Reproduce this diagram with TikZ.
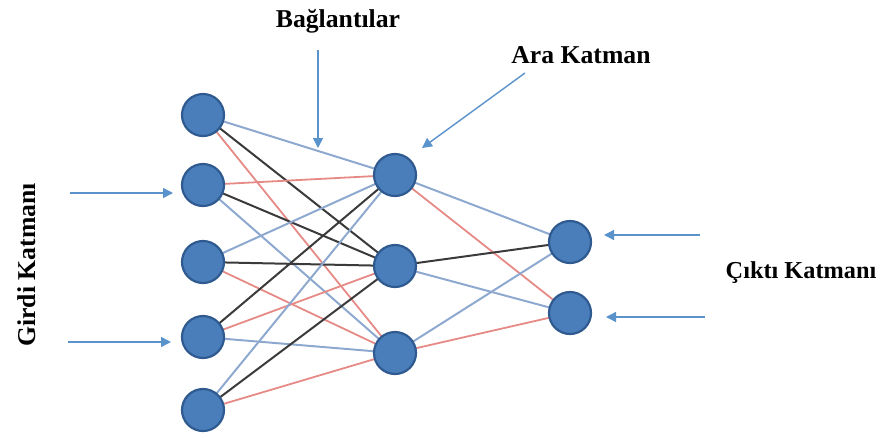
\documentclass[tikz,border=0pt]{standalone}
\usepackage{fontspec}
\setmainfont{Liberation Serif}
\usetikzlibrary{arrows.meta}
\definecolor{nodefill}{HTML}{4A7EBB}
\definecolor{nodeedge}{HTML}{2F5A8F}
\definecolor{linkblue}{HTML}{8EA9CF}
\definecolor{linkred}{HTML}{E68A86}
\definecolor{linkdark}{HTML}{3A3A3A}
\definecolor{pointer}{HTML}{5A92CC}
\begin{document}
\begin{tikzpicture}[x=1pt,y=-1pt,
  neuron/.style={circle,draw=nodeedge,line width=2.2pt,fill=nodefill,minimum size=42pt,inner sep=0pt},
  lb/.style={draw=linkblue,line width=2pt},
  lr/.style={draw=linkred,line width=1.8pt},
  ld/.style={draw=linkdark,line width=2pt},
  pointer/.style={draw=pointer,line width=1.4pt,-{Triangle[length=10pt,width=10pt]}},
  caption/.style={font=\bfseries\fontsize{25.7}{28}\selectfont,inner sep=0pt,anchor=base}]
\useasboundingbox (0,0) rectangle (886,437);

% input layer
\coordinate (i1) at (203,115);
\coordinate (i2) at (203,185);
\coordinate (i3) at (203,262);
\coordinate (i4) at (203,337);
\coordinate (i5) at (203,410);
% hidden layer
\coordinate (h1) at (395,175);
\coordinate (h2) at (395,266);
\coordinate (h3) at (395,353);
% output layer
\coordinate (o1) at (570,242);
\coordinate (o2) at (570,313);

% connections input -> hidden
\draw[lb] (i1) -- (h1);
\draw[ld] (i1) -- (h2);
\draw[lr] (i1) -- (h3);
\draw[lr] (i2) -- (h1);
\draw[ld] (i2) -- (h2);
\draw[lb] (i2) -- (h3);
\draw[lb] (i3) -- (h1);
\draw[ld] (i3) -- (h2);
\draw[lr] (i3) -- (h3);
\draw[ld] (i4) -- (h1);
\draw[lr] (i4) -- (h2);
\draw[lb] (i4) -- (h3);
\draw[lb] (i5) -- (h1);
\draw[ld] (i5) -- (h2);
\draw[lr] (i5) -- (h3);
% connections hidden -> output
\draw[lb] (h1) -- (o1);
\draw[lr] (h1) -- (o2);
\draw[ld] (h2) -- (o1);
\draw[lb] (h2) -- (o2);
\draw[lb] (h3) -- (o1);
\draw[lr] (h3) -- (o2);

% neurons
\foreach \n in {i1,i2,i3,i4,i5,h1,h2,h3,o1,o2}
  \node[neuron] (n\n) at (\n) {};

% labels
\node[caption] (tb) at (338,27) {Bağlantılar};
\node[caption] (ta) at (581,63) {Ara Katman};
\node[caption,font=\bfseries\fontsize{24.3}{27}\selectfont] (tc) at (801,278) {Çıktı Katmanı};
\node[caption,rotate=90] (tg) at (35,265) {Girdi Katmanı};

% pointer arrows
\coordinate (pb1) at (318,50);  \coordinate (pb2) at (318,148);
\coordinate (pa1) at (525,73);  \coordinate (pa2) at (422,148);
\coordinate (pl1) at (70,193);  \coordinate (pl2) at (173,193);
\coordinate (pl3) at (68,342);  \coordinate (pl4) at (171,342);
\coordinate (pr1) at (700,235); \coordinate (pr2) at (604,235);
\coordinate (pr3) at (705,317); \coordinate (pr4) at (606,317);
\draw[pointer] (pb1) -- (pb2);
\draw[pointer] (pa1) -- (pa2);
\draw[pointer] (pl1) -- (pl2);
\draw[pointer] (pl3) -- (pl4);
\draw[pointer] (pr1) -- (pr2);
\draw[pointer] (pr3) -- (pr4);
\end{tikzpicture}
\end{document}
